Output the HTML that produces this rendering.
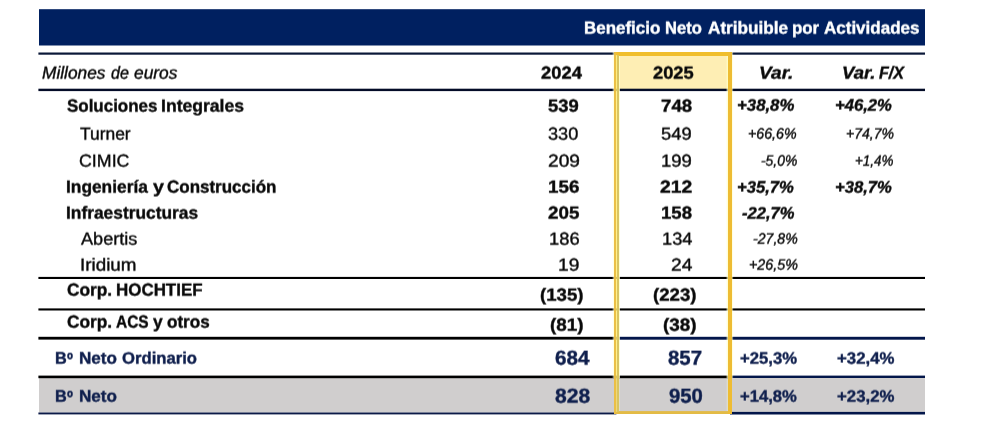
<!DOCTYPE html>
<html><head><meta charset="utf-8"><title>Beneficio Neto Atribuible por Actividades</title>
<style>
html,body{margin:0;padding:0;background:#fff;}
body{width:994px;height:433px;position:relative;overflow:hidden;font-family:"Liberation Sans",sans-serif;}
#txt{position:absolute;left:0;top:0;width:994px;height:433px;will-change:transform;transform:translateY(-0.35px) rotate(0.0001deg);filter:blur(0.3px);}
.t{position:absolute;white-space:nowrap;line-height:30px;height:30px;transform-origin:0 0;text-rendering:geometricPrecision;-webkit-text-stroke:0.4px;}
</style></head><body>

<svg width="994" height="433" viewBox="0 0 994 433" style="position:absolute;left:0;top:0">
  <rect x="39" y="9.2" width="886" height="36.3" fill="#002060"/>
  <!-- grey total row -->
  <rect x="39" y="378" width="886" height="34.5" fill="#d0cece"/>
  <!-- header highlight fill -->
  <rect x="616" y="54" width="114" height="35" fill="#feeeb4"/>
  <!-- horizontal rules -->
  <rect x="38.4" y="52.5" width="886.6" height="2.2" fill="#0a1838"/>
  <rect x="38.4" y="88.7" width="886.6" height="2.4" fill="#040c28"/>
  <rect x="38.4" y="276.9" width="886.6" height="2.1" fill="#000"/>
  <rect x="38.4" y="308.4" width="886.6" height="2.1" fill="#000"/>
  <rect x="38.4" y="336.8" width="578" height="2.8" fill="#000"/>
  <rect x="616" y="336.8" width="309" height="2.9" fill="#03164a"/>
  <rect x="38.4" y="375.6" width="692" height="2.6" fill="#000"/>
  <rect x="730" y="375.6" width="195" height="2.4" fill="#03164a"/>
  <rect x="38.4" y="412.5" width="578" height="1.9" fill="#0c1a48"/>
  <rect x="730" y="411.9" width="195" height="2.6" fill="#03164a"/>
  <!-- yellow frame -->
  <rect x="614" y="52" width="118" height="4" fill="#f0be2d"/>
  <rect x="614" y="411.1" width="118" height="2.9" fill="#e3bb45"/>
  <rect x="728" y="52" width="4" height="362" fill="#eebc33"/>
  <rect x="614" y="52" width="2.2" height="362" fill="#ebbf45"/>
  <rect x="616.2" y="55" width="0.9" height="323" fill="#fff078"/>
  <rect x="616.2" y="378" width="0.9" height="34" fill="#f3dc6e"/>
  <rect x="617" y="55" width="2" height="357" fill="#d8c462"/>
  <rect x="619" y="56" width="1" height="322" fill="#ffffc8" opacity="0.8"/>
  <rect x="619" y="378" width="1" height="33" fill="#ffffc8" opacity="0.3"/>
  <rect x="726.6" y="56" width="1.4" height="322" fill="#ffffc8" opacity="0.7"/>
  <rect x="726.6" y="378" width="1.4" height="33" fill="#ffffc8" opacity="0.3"/>
  <rect x="732" y="52" width="1.1" height="326" fill="#ffffc8" opacity="0.5"/>
  <rect x="612.7" y="52" width="1.3" height="326" fill="#ffffd2" opacity="0.55"/>
</svg>

<div id="txt">
<div class="t" style="left:583.54px;top:13.35px;font-size:17.35px;transform:scaleX(0.9772);color:#ffffff;font-weight:bold;">Beneficio</div>
<div class="t" style="left:664.97px;top:13.35px;font-size:17.35px;transform:scaleX(0.9538);color:#ffffff;font-weight:bold;">Neto</div>
<div class="t" style="left:708.33px;top:13.35px;font-size:17.35px;transform:scaleX(0.9892);color:#ffffff;font-weight:bold;">Atribuible</div>
<div class="t" style="left:791.64px;top:13.35px;font-size:17.35px;transform:scaleX(0.9730);color:#ffffff;font-weight:bold;">por</div>
<div class="t" style="left:824.03px;top:13.35px;font-size:17.35px;transform:scaleX(0.9801);color:#ffffff;font-weight:bold;">Actividades</div>
<div class="t" style="left:42.33px;top:58.35px;font-size:17.49px;transform:scaleX(0.9887);color:#0a0a0a;font-style:italic;">Millones</div>
<div class="t" style="left:111.10px;top:58.35px;font-size:17.49px;transform:scaleX(0.9201);color:#0a0a0a;font-style:italic;">de</div>
<div class="t" style="left:134.06px;top:58.35px;font-size:17.49px;transform:scaleX(0.9921);color:#0a0a0a;font-style:italic;">euros</div>
<div class="t" style="left:540.93px;top:58.35px;font-size:17.49px;transform:scaleX(1.0499);color:#0a0a0a;font-weight:bold;">2024</div>
<div class="t" style="left:653.33px;top:58.35px;font-size:17.49px;transform:scaleX(1.0466);color:#0a0a0a;font-weight:bold;">2025</div>
<div class="t" style="left:759.01px;top:58.35px;font-size:17.49px;transform:scaleX(1.0912);color:#0a0a0a;font-weight:bold;font-style:italic;">Var.</div>
<div class="t" style="left:841.75px;top:58.35px;font-size:17.49px;transform:scaleX(1.0599);color:#0a0a0a;font-weight:bold;font-style:italic;">Var.</div>
<div class="t" style="left:878.95px;top:58.35px;font-size:17.49px;transform:scaleX(0.9193);color:#0a0a0a;font-weight:bold;font-style:italic;">F/X</div>
<div class="t" style="left:67.24px;top:91.35px;font-size:17.49px;transform:scaleX(0.9693);color:#0a0a0a;font-weight:bold;">Soluciones</div>
<div class="t" style="left:161.40px;top:91.35px;font-size:17.49px;transform:scaleX(1.0057);color:#0a0a0a;font-weight:bold;">Integrales</div>
<div class="t" style="left:548.11px;top:91.35px;font-size:17.49px;transform:scaleX(1.0534);color:#0a0a0a;font-weight:bold;">539</div>
<div class="t" style="left:661.12px;top:91.35px;font-size:17.49px;transform:scaleX(1.0672);color:#0a0a0a;font-weight:bold;">748</div>
<div class="t" style="left:736.71px;top:91.37px;font-size:16.64px;transform:scaleX(1.0092);color:#0a0a0a;font-weight:bold;font-style:italic;">+38,8%</div>
<div class="t" style="left:835.02px;top:91.36px;font-size:16.64px;transform:scaleX(1.0003);color:#0a0a0a;font-weight:bold;font-style:italic;">+46,2%</div>
<div class="t" style="left:80.03px;top:119.35px;font-size:17.49px;transform:scaleX(0.9957);color:#0a0a0a;">Turner</div>
<div class="t" style="left:548.33px;top:119.35px;font-size:17.49px;transform:scaleX(1.0388);color:#0a0a0a;">330</div>
<div class="t" style="left:661.43px;top:119.35px;font-size:17.49px;transform:scaleX(1.0490);color:#0a0a0a;">549</div>
<div class="t" style="left:748.41px;top:120.36px;font-size:15.08px;transform:scaleX(0.9430);color:#0a0a0a;font-style:italic;">+66,6%</div>
<div class="t" style="left:845.92px;top:120.36px;font-size:15.08px;transform:scaleX(0.9310);color:#0a0a0a;font-style:italic;">+74,7%</div>
<div class="t" style="left:79.37px;top:146.35px;font-size:17.49px;transform:scaleX(1.0180);color:#0a0a0a;">CIMIC</div>
<div class="t" style="left:547.80px;top:146.35px;font-size:17.49px;transform:scaleX(1.0955);color:#0a0a0a;">209</div>
<div class="t" style="left:661.44px;top:146.35px;font-size:17.49px;transform:scaleX(1.0590);color:#0a0a0a;">199</div>
<div class="t" style="left:761.05px;top:147.36px;font-size:15.08px;transform:scaleX(0.9208);color:#0a0a0a;font-style:italic;">-5,0%</div>
<div class="t" style="left:855.16px;top:147.36px;font-size:15.08px;transform:scaleX(0.8905);color:#0a0a0a;font-style:italic;">+1,4%</div>
<div class="t" style="left:66.42px;top:172.35px;font-size:17.49px;transform:scaleX(0.9908);color:#0a0a0a;font-weight:bold;">Ingeniería</div>
<div class="t" style="left:152.50px;top:172.35px;font-size:17.49px;transform:scaleX(1.1280);color:#0a0a0a;font-weight:bold;">y</div>
<div class="t" style="left:167.07px;top:172.35px;font-size:17.49px;transform:scaleX(0.9708);color:#0a0a0a;font-weight:bold;">Construcción</div>
<div class="t" style="left:548.13px;top:172.35px;font-size:17.49px;transform:scaleX(1.0738);color:#0a0a0a;font-weight:bold;">156</div>
<div class="t" style="left:660.40px;top:172.35px;font-size:17.49px;transform:scaleX(1.1062);color:#0a0a0a;font-weight:bold;">212</div>
<div class="t" style="left:737.32px;top:173.37px;font-size:16.64px;transform:scaleX(1.0003);color:#0a0a0a;font-weight:bold;font-style:italic;">+35,7%</div>
<div class="t" style="left:834.92px;top:173.36px;font-size:16.64px;transform:scaleX(1.0003);color:#0a0a0a;font-weight:bold;font-style:italic;">+38,7%</div>
<div class="t" style="left:66.31px;top:198.35px;font-size:17.49px;transform:scaleX(0.9925);color:#0a0a0a;font-weight:bold;">Infraestructuras</div>
<div class="t" style="left:548.11px;top:198.35px;font-size:17.49px;transform:scaleX(1.0743);color:#0a0a0a;font-weight:bold;">205</div>
<div class="t" style="left:661.44px;top:198.35px;font-size:17.49px;transform:scaleX(1.0630);color:#0a0a0a;font-weight:bold;">158</div>
<div class="t" style="left:741.74px;top:199.37px;font-size:16.64px;transform:scaleX(0.9956);color:#0a0a0a;font-weight:bold;font-style:italic;">-22,7%</div>
<div class="t" style="left:80.50px;top:224.35px;font-size:17.49px;transform:scaleX(1.0353);color:#0a0a0a;">Abertis</div>
<div class="t" style="left:549.15px;top:224.35px;font-size:17.49px;transform:scaleX(1.0480);color:#0a0a0a;">186</div>
<div class="t" style="left:662.06px;top:224.35px;font-size:17.49px;transform:scaleX(1.0413);color:#0a0a0a;">134</div>
<div class="t" style="left:752.64px;top:225.36px;font-size:15.08px;transform:scaleX(0.9354);color:#0a0a0a;font-style:italic;">-27,8%</div>
<div class="t" style="left:79.53px;top:250.35px;font-size:17.49px;transform:scaleX(1.0773);color:#0a0a0a;">Iridium</div>
<div class="t" style="left:558.40px;top:250.35px;font-size:17.49px;transform:scaleX(1.0988);color:#0a0a0a;">19</div>
<div class="t" style="left:671.10px;top:250.35px;font-size:17.49px;transform:scaleX(1.0988);color:#0a0a0a;">24</div>
<div class="t" style="left:748.51px;top:251.36px;font-size:15.08px;transform:scaleX(0.9470);color:#0a0a0a;font-style:italic;">+26,5%</div>
<div class="t" style="left:66.66px;top:275.35px;font-size:17.49px;transform:scaleX(0.9888);color:#0a0a0a;font-weight:bold;">Corp.</div>
<div class="t" style="left:115.54px;top:275.35px;font-size:17.49px;transform:scaleX(0.9688);color:#0a0a0a;font-weight:bold;">HOCHTIEF</div>
<div class="t" style="left:539.63px;top:280.35px;font-size:17.49px;transform:scaleX(1.0664);color:#0a0a0a;font-weight:bold;">(135)</div>
<div class="t" style="left:652.83px;top:280.35px;font-size:17.49px;transform:scaleX(1.0664);color:#0a0a0a;font-weight:bold;">(223)</div>
<div class="t" style="left:66.66px;top:307.35px;font-size:17.49px;transform:scaleX(0.9888);color:#0a0a0a;font-weight:bold;">Corp.</div>
<div class="t" style="left:115.76px;top:307.35px;font-size:17.49px;transform:scaleX(0.8840);color:#0a0a0a;font-weight:bold;">ACS</div>
<div class="t" style="left:153.20px;top:307.35px;font-size:17.49px;transform:scaleX(0.9959);color:#0a0a0a;font-weight:bold;">y</div>
<div class="t" style="left:166.57px;top:307.35px;font-size:17.49px;transform:scaleX(0.9770);color:#0a0a0a;font-weight:bold;">otros</div>
<div class="t" style="left:549.62px;top:310.35px;font-size:17.49px;transform:scaleX(1.0790);color:#0a0a0a;font-weight:bold;">(81)</div>
<div class="t" style="left:662.71px;top:310.35px;font-size:17.49px;transform:scaleX(1.0824);color:#0a0a0a;font-weight:bold;">(38)</div>
<div class="t" style="left:54.88px;top:344.37px;font-size:16.64px;transform:scaleX(0.9808);color:#0f1f4d;font-weight:bold;">B</div>
<div class="t" style="left:66.65px;top:344.68px;font-size:18.37px;transform:scaleX(0.8871);color:#0f1f4d;font-weight:bold;">º</div>
<div class="t" style="left:78.93px;top:344.37px;font-size:16.64px;transform:scaleX(1.0285);color:#0f1f4d;font-weight:bold;">Neto</div>
<div class="t" style="left:122.18px;top:344.37px;font-size:16.64px;transform:scaleX(1.0024);color:#0f1f4d;font-weight:bold;">Ordinario</div>
<div class="t" style="left:554.85px;top:344.35px;font-size:20.20px;transform:scaleX(1.0243);color:#0f1f4d;font-weight:bold;">684</div>
<div class="t" style="left:667.96px;top:344.35px;font-size:20.20px;transform:scaleX(1.0110);color:#0f1f4d;font-weight:bold;">857</div>
<div class="t" style="left:739.88px;top:344.35px;font-size:16.36px;transform:scaleX(1.0202);color:#0f1f4d;font-weight:bold;">+25,3%</div>
<div class="t" style="left:836.97px;top:344.35px;font-size:16.36px;transform:scaleX(1.0275);color:#0f1f4d;font-weight:bold;">+32,4%</div>
<div class="t" style="left:54.88px;top:382.37px;font-size:16.64px;transform:scaleX(0.9808);color:#0f1f4d;font-weight:bold;">B</div>
<div class="t" style="left:66.65px;top:382.68px;font-size:18.37px;transform:scaleX(0.8871);color:#0f1f4d;font-weight:bold;">º</div>
<div class="t" style="left:78.93px;top:382.37px;font-size:16.64px;transform:scaleX(1.0285);color:#0f1f4d;font-weight:bold;">Neto</div>
<div class="t" style="left:554.84px;top:382.35px;font-size:20.20px;transform:scaleX(1.0442);color:#0f1f4d;font-weight:bold;">828</div>
<div class="t" style="left:668.87px;top:382.35px;font-size:20.20px;transform:scaleX(1.0048);color:#0f1f4d;font-weight:bold;">950</div>
<div class="t" style="left:739.88px;top:382.35px;font-size:16.36px;transform:scaleX(1.0166);color:#0f1f4d;font-weight:bold;">+14,8%</div>
<div class="t" style="left:836.97px;top:382.35px;font-size:16.36px;transform:scaleX(1.0275);color:#0f1f4d;font-weight:bold;">+23,2%</div>
</div>
</body></html>
